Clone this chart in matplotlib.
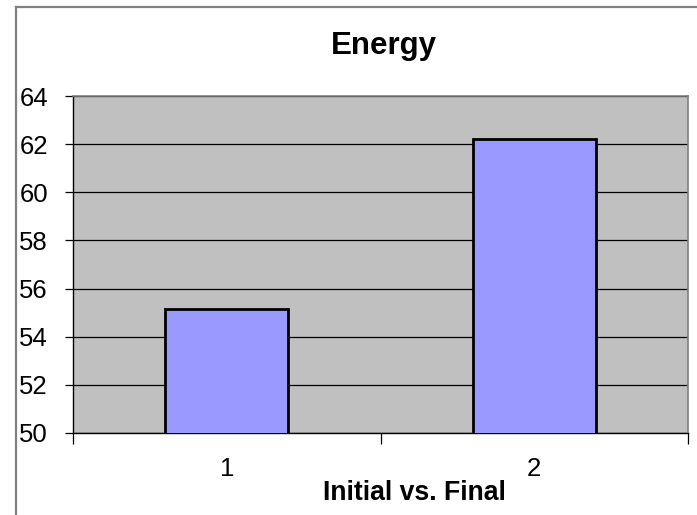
import matplotlib.pyplot as plt
from matplotlib.lines import Line2D

categories = [1, 2]
energy = [55.15, 62.2]
yticks = [50, 52, 54, 56, 58, 60, 62, 64]

plt.rcParams['font.family'] = ['Liberation Sans', 'DejaVu Sans']

W, H = 697, 515
fig = plt.figure(figsize=(W / 100, H / 100), dpi=100)
fig.patch.set_facecolor('white')

# chart area border (only top and left edges fall inside the frame)
fig.add_artist(Line2D([16 / W, 16 / W], [0, 1 - 7 / H], color='#808080', lw=1.6))
fig.add_artist(Line2D([16 / W, 1], [1 - 7 / H, 1 - 7 / H], color='#808080', lw=1.6))

ax = fig.add_axes([73 / W, (H - 433) / H, (688 - 73) / W, (433 - 96) / H])
ax.set_facecolor('#C0C0C0')

ax.bar(categories, energy, width=0.4, bottom=0, color='#9999FF',
       edgecolor='black', linewidth=2.0, zorder=3)

ax.set_xlim(0.5, 2.5)
ax.set_ylim(50, 64)
ax.set_yticks(yticks)
ax.yaxis.grid(True, color='black', linewidth=0.9, zorder=1)
ax.set_axisbelow(True)

ax.set_xticks([0.5, 1.5, 2.5])
ax.set_xticks(categories, minor=True)
ax.set_xticklabels([])
ax.set_xticklabels([str(c) for c in categories], minor=True)
ax.tick_params(axis='x', which='major', direction='out', length=8, width=0.9)
ax.tick_params(axis='x', which='minor', length=0, pad=17, labelsize=18.5)
ax.tick_params(axis='y', direction='out', length=6, width=0.9, pad=12, labelsize=18.5)

for side in ['left', 'bottom']:
    ax.spines[side].set_color('black')
    ax.spines[side].set_linewidth(1.0)
for side in ['top', 'right']:
    ax.spines[side].set_color('#808080')
    ax.spines[side].set_linewidth(1.2)

fig.text(384 / W, 1 - 46 / H, 'Energy', ha='center', va='center',
         fontsize=22.5, fontweight='bold')
fig.text(414 / W, 1 - 493 / H, 'Initial vs. Final', ha='center', va='center',
         fontsize=19.2, fontweight='bold')

fig.savefig('out.png', dpi=100)
